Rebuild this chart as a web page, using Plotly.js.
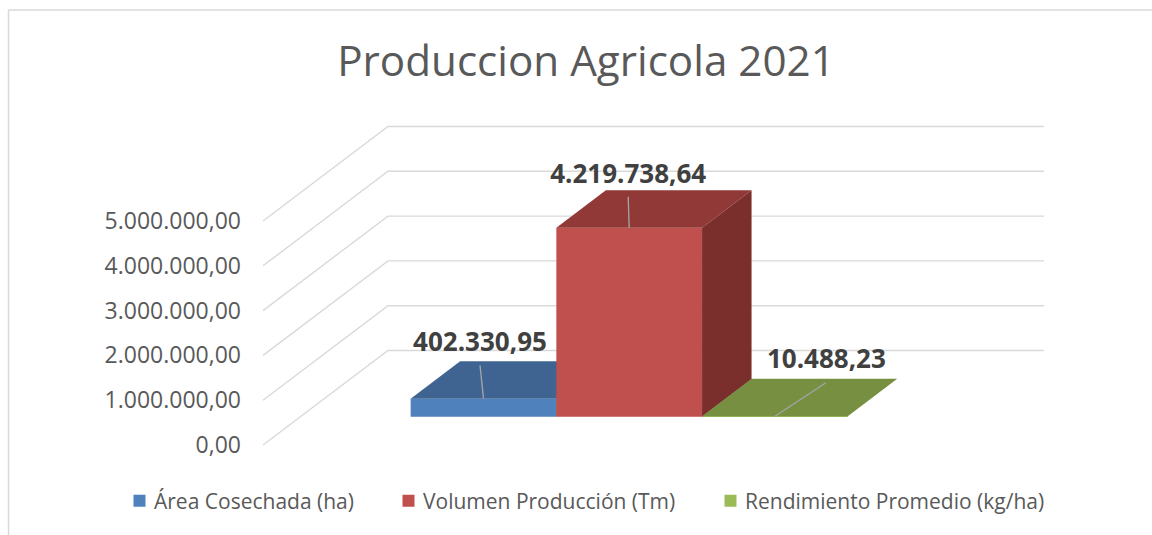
<!DOCTYPE html>
<html>
<head>
<meta charset="utf-8">
<script src="https://cdn.plot.ly/plotly-3.0.1.min.js"></script>
<style>html,body{margin:0;padding:0;background:#fff}#chart{width:1152px;height:535px}</style>
</head>
<body>
<div id="chart"></div>
<script>
// ---- data ----
const chartTitle = 'Produccion Agricola 2021';
const seriesNames = ['Área Cosechada (ha)', 'Volumen Producción (Tm)', 'Rendimiento Promedio (kg/ha)'];
const seriesValues = [402330.95, 4219738.64, 10488.23];
const axisTicks = [0, 1000000, 2000000, 3000000, 4000000, 5000000];

// ---- styles ----
const frontColors = ['#4F81BD', '#C0504D', '#9BBB59'];
const topColors = ['#3F6491', '#903937', '#768F40'];
const sideColors = ['#345478', '#7B2F2D', '#637A35'];
const gridColor = '#D9D9D9';
const textColor = '#595959';
const labelColor = '#404040';
const leaderColor = '#A6A6A6';
const fontFamily = '"Open Sans", sans-serif';

// ---- oblique projection, in axis scale terms ----
const W = 1152, H = 535;
const unitPx = 145.7;            // pixels per category
const valuePx = 44.8 / 1e6;      // pixels per value unit
const originPx = 483.5;          // pixel of category 0
const floorPx = 416.7;           // pixel of the bars' floor
const wallFloorPx = 445;         // pixel of the axis's zero
const xOf = px => (px - originPx) / unitPx;
const dx = px => px / unitPx;
const dy = px => px / valuePx;
const xRange = [xOf(0), xOf(W)];
const rangeFor = p0 => [-(H - p0) / valuePx, p0 / valuePx];
const barDepth = [dx(49.5), dy(37.5)];
const wallDepth = [125, 94.5];
const wallFront = xOf(263), wallBack = xOf(388), wallRight = xOf(1044);

// ---- walls ----
const gridX = [], gridY = [];
axisTicks.forEach(v => {
  gridX.push(wallFront, wallBack, wallRight, null);
  gridY.push(v, v + dy(wallDepth[1]), v + dy(wallDepth[1]), null);
});
const traces = [{
  type: 'scatter', mode: 'lines', x: gridX, y: gridY, xaxis: 'x', yaxis: 'y',
  line: {color: gridColor, width: 1.4}, hoverinfo: 'skip', showlegend: false
}];

// ---- bars ----
const legendIds = ['legend', 'legend2', 'legend3'];
const layerOf = ['y2', 'y3', 'y3'];
seriesValues.forEach((v, i) => {
  const yax = layerOf[i];
  traces.push({
    type: 'bar', name: seriesNames[i], x: [i], y: [v], width: [1], base: 0,
    xaxis: 'x', yaxis: yax, legend: legendIds[i], showlegend: true,
    marker: {color: frontColors[i], line: {width: 0}}, hoverinfo: 'name+y'
  });
  traces.push({
    type: 'scatter', mode: 'lines', fill: 'toself', fillcolor: topColors[i],
    x: [i - .5, i + .5, i + .5 + barDepth[0], i - .5 + barDepth[0], i - .5],
    y: [v, v, v + barDepth[1], v + barDepth[1], v],
    xaxis: 'x', yaxis: yax, line: {width: 0}, hoverinfo: 'skip', showlegend: false
  });
  traces.push({
    type: 'scatter', mode: 'lines', fill: 'toself', fillcolor: sideColors[i],
    x: [i + .5, i + .5 + barDepth[0], i + .5 + barDepth[0], i + .5, i + .5],
    y: [0, barDepth[1], v + barDepth[1], v, 0],
    xaxis: 'x', yaxis: yax, line: {width: 0}, hoverinfo: 'skip', showlegend: false
  });
});

// ---- leader lines + data labels ----
const leaderEnd = [[-3.5, 33.3], [-1, 31], [51, 33.4]];   // px from each bar's top centre
const labelOffset = [[-3.5, 54], [-1, 51], [51.5, 54.7]];
seriesValues.forEach((v, i) => {
  traces.push({
    type: 'scatter', mode: 'lines',
    x: [i, i + dx(leaderEnd[i][0])], y: [v, v + dy(leaderEnd[i][1])],
    xaxis: 'x', yaxis: 'y3', line: {color: leaderColor, width: 1.3},
    hoverinfo: 'skip', showlegend: false
  });
  traces.push({
    type: 'scatter', mode: 'text',
    x: [i + dx(labelOffset[i][0])], y: [v + dy(labelOffset[i][1])],
    customdata: [v], texttemplate: '%{customdata:,.2f}', textposition: 'middle center',
    textfont: {family: fontFamily, size: 26, color: labelColor, weight: 700},
    xaxis: 'x', yaxis: 'y3', hoverinfo: 'skip', showlegend: false
  });
});

const legendFor = px => ({
  orientation: 'h', x: px / W, xanchor: 'left', y: 1 - 501 / H, yanchor: 'middle',
  bgcolor: 'rgba(0,0,0,0)', font: {family: fontFamily, size: 21, color: textColor}
});

const layout = {
  width: W, height: H, margin: {l: 0, r: 0, t: 0, b: 0},
  paper_bgcolor: '#fff', plot_bgcolor: '#fff', separators: ',.',
  barmode: 'overlay', hovermode: 'closest',
  title: {text: chartTitle, x: 586 / W, xanchor: 'center', y: 1 - 61 / H, yanchor: 'middle',
          font: {family: fontFamily, size: 42.2, color: textColor}},
  xaxis: {range: xRange, visible: false, fixedrange: true},
  yaxis: {
    range: rangeFor(wallFloorPx), anchor: 'free', position: 241 / W, side: 'left',
    tickmode: 'array', tickvals: axisTicks, tickformat: ',.2f',
    tickfont: {family: fontFamily, size: 23, color: textColor},
    showgrid: false, zeroline: false, showline: false, ticks: '', fixedrange: true
  },
  yaxis2: {range: rangeFor(floorPx), overlaying: 'y', visible: false, fixedrange: true},
  yaxis3: {range: rangeFor(floorPx), overlaying: 'y', visible: false, fixedrange: true},
  legend: legendFor(114),
  legend2: legendFor(383),
  legend3: legendFor(705),
  shapes: [
    {type: 'line', xref: 'paper', yref: 'paper', x0: 8.5 / W, x1: 1, y0: 1 - 10 / H, y1: 1 - 10 / H,
     line: {color: gridColor, width: 1.5}},
    {type: 'line', xref: 'paper', yref: 'paper', x0: 8.5 / W, x1: 8.5 / W, y0: 1 - 10 / H, y1: 0,
     line: {color: gridColor, width: 1.5}}
  ]
};
// legend swatches sit closer to their text in the reference
function nudgeSwatches() {
  document.querySelectorAll('.legendpoints').forEach(g => {
    g.setAttribute('transform', 'translate(5.5,0)');
  });
}
const gd = document.getElementById('chart');
Plotly.newPlot(gd, traces, layout, {displayModeBar: false, responsive: false}).then(() => {
  nudgeSwatches();
  requestAnimationFrame(nudgeSwatches);
  setTimeout(nudgeSwatches, 50);
});
</script>
</body>
</html>
